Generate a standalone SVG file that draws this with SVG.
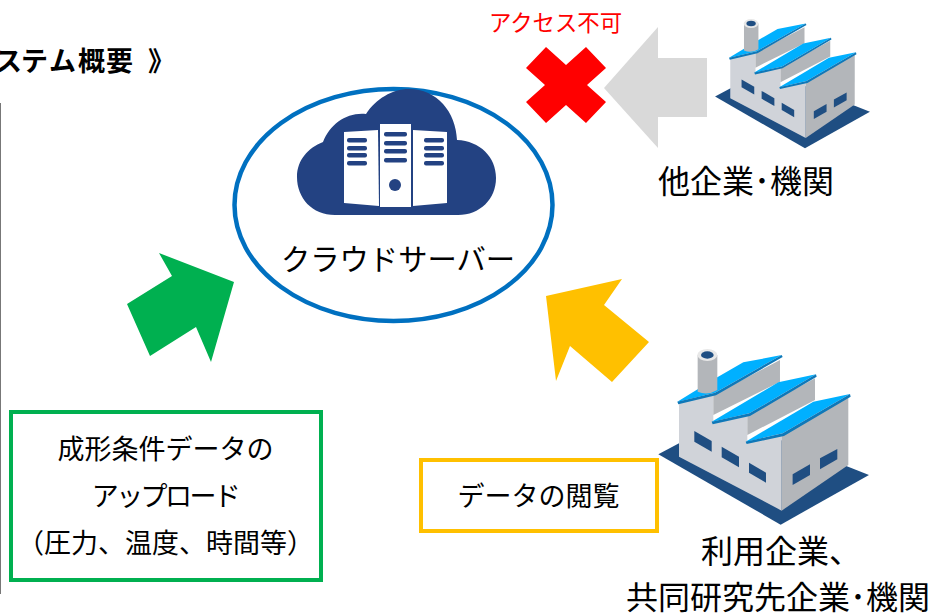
<svg xmlns="http://www.w3.org/2000/svg" width="947" height="614" viewBox="0 0 947 614">
<style>
text{font-family:"Noto Sans CJK JP","Liberation Sans",sans-serif;fill:#000;text-anchor:middle}
.t27{font-size:27px}.t30{font-size:29.3px}.t32{font-size:32px}
.win{fill:#1f4e82}
.roof{fill:#00b0ff}.edge{fill:#0f78b8}
.lite{fill:#d0d3d9}.dark{fill:#b3b6ba}
.srv{fill:#fff}.bar{fill:#234282}
</style>
<defs>
<g id="factory">
<polygon class="win" points="-5,343 60,308 362,300 627,405 362,554"/>
<polygon class="lite" points="57,185 160,165 160,245 262,225 262,305 365,285 365,512 57,350"/>
<polygon class="dark" points="365,285 565,170 565,375 365,512"/>
<polygon class="dark" points="160,165 360,60 360,125 160,225"/>
<polygon class="dark" points="262,225 465,115 465,180 262,285"/>
<polygon class="roof" points="52,185 113,148 172,112 250,67 365,45 165,158 55,185"/>
<polygon class="edge" points="52,185 165,158 365,45 368,51 168,166 55,193"/>
<polygon class="roof" points="155,245 355,127 468,103 268,220 158,245"/>
<polygon class="edge" points="155,245 268,220 468,103 470,110 270,228 158,253"/>
<polygon class="roof" points="257,305 460,185 570,162 368,280 260,305"/>
<polygon class="edge" points="257,305 368,280 570,162 572,170 372,288 260,312"/>
<path class="dark" d="M113 45 H172 V150 Q142 168 113 155 Z"/>
<ellipse cx="142" cy="45" rx="30" ry="18" fill="#e8e8e8"/>
<ellipse cx="142" cy="45" rx="19" ry="11" class="win"/>
<polygon class="win" points="103,273 155,303 155,335 103,305"/>
<polygon class="win" points="185,320 237,350 237,382 185,352"/>
<polygon class="win" points="267,368 318,398 318,428 267,398"/>
<polygon class="win" points="398,403 450,373 450,405 398,435"/>
<polygon class="win" points="480,355 532,327 532,358 480,388"/>
</g>
</defs>
<rect width="947" height="614" fill="#fff"/>
<rect x="0" y="103" width="1" height="491" fill="#777"/>
<text id="title" x="-5 21 49 78 106 148" y="71" style="text-anchor:start;font-size:27px;font-weight:700">ステム概要》</text>
<g id="connectors">
<polygon fill="#00b050" points="159,253 234,282 211,362 196,327 150,356 127,304 172,276"/>
<polygon fill="#ffc000" points="546,296 622,279 604,305 649,342 612,382 570,346 556,381"/>
<polygon fill="#d9d9d9" points="604,88 658,27 658,58 707,58 707,117 658,117 658,148"/>
<polygon fill="#ff0000" points="546,47 566,65 586,47 606,68 587,85 606,102 586,123 566,105 546,123 526,102 545,85 526,68"/>
<text x="555.5" y="31" style="fill:#ff0000;font-size:22.4px">アクセス不可</text>
</g>
<g id="cloud-server">
<ellipse cx="393.5" cy="205" rx="159" ry="116" fill="#fff" stroke="#0070c0" stroke-width="4.5"/>
<path fill="#234282" d="M335 215 C312 215 297 198 297 177 C297 160 308 148 323 142 C330 124 347 112 366 114 C376 99 392 89 409 89 C437 89 456 112 457 140 C480 141 496 157 496 178 C496 199 480 215 458 215 Z"/>
<path class="srv" d="M344 132 L378 130 L379 206 L344 203 Z"/>
<rect class="srv" x="380" y="124" width="31" height="83"/>
<path class="srv" d="M413 130 L447 132 L447 203 L413 206 Z"/>
<g class="bar">
<rect x="347" y="138" width="20" height="4.5" rx="2"/><rect x="347" y="146" width="20" height="4.5" rx="2"/><rect x="347" y="153" width="20" height="4.5" rx="2"/><rect x="347" y="161" width="20" height="4.5" rx="2"/>
<rect x="384" y="132" width="23" height="4.5" rx="2"/><rect x="384" y="141" width="23" height="4.5" rx="2"/><rect x="384" y="149" width="23" height="4.5" rx="2"/><rect x="384" y="158" width="23" height="4.5" rx="2"/>
<rect x="424" y="138" width="20" height="4.5" rx="2"/><rect x="424" y="146" width="20" height="4.5" rx="2"/><rect x="424" y="153" width="20" height="4.5" rx="2"/><rect x="424" y="161" width="20" height="4.5" rx="2"/>
<circle cx="395" cy="185" r="6"/>
</g>
<text class="t30" x="398" y="270">クラウドサーバー</text>
</g>
<g id="other-company">
<use href="#factory" transform="translate(716.3,12.5) scale(.245)"/>
<text class="t32" x="746" y="193">他企業･機関</text>
</g>
<g id="partner-company">
<use href="#factory" transform="translate(660,340) scale(.3333)"/>
<text class="t32" x="781" y="563">利用企業、</text>
<text class="t32" x="778" y="609">共同研究先企業･機関</text>
</g>
<g id="upload-box">
<rect x="11" y="412" width="310" height="168" fill="#fff" stroke="#00b050" stroke-width="4"/>
<text class="t27" x="165.5" y="459">成形条件データの</text>
<text class="t27" x="165" y="506" style="letter-spacing:-2.6px">アップロード</text>
<text class="t27" x="165.5" y="553">（圧力、温度、時間等）</text>
</g>
<g id="view-box">
<rect x="421" y="460" width="236" height="71" fill="#fff" stroke="#ffc000" stroke-width="4"/>
<text class="t27" x="538.5" y="506">データの閲覧</text>
</g>
</svg>
